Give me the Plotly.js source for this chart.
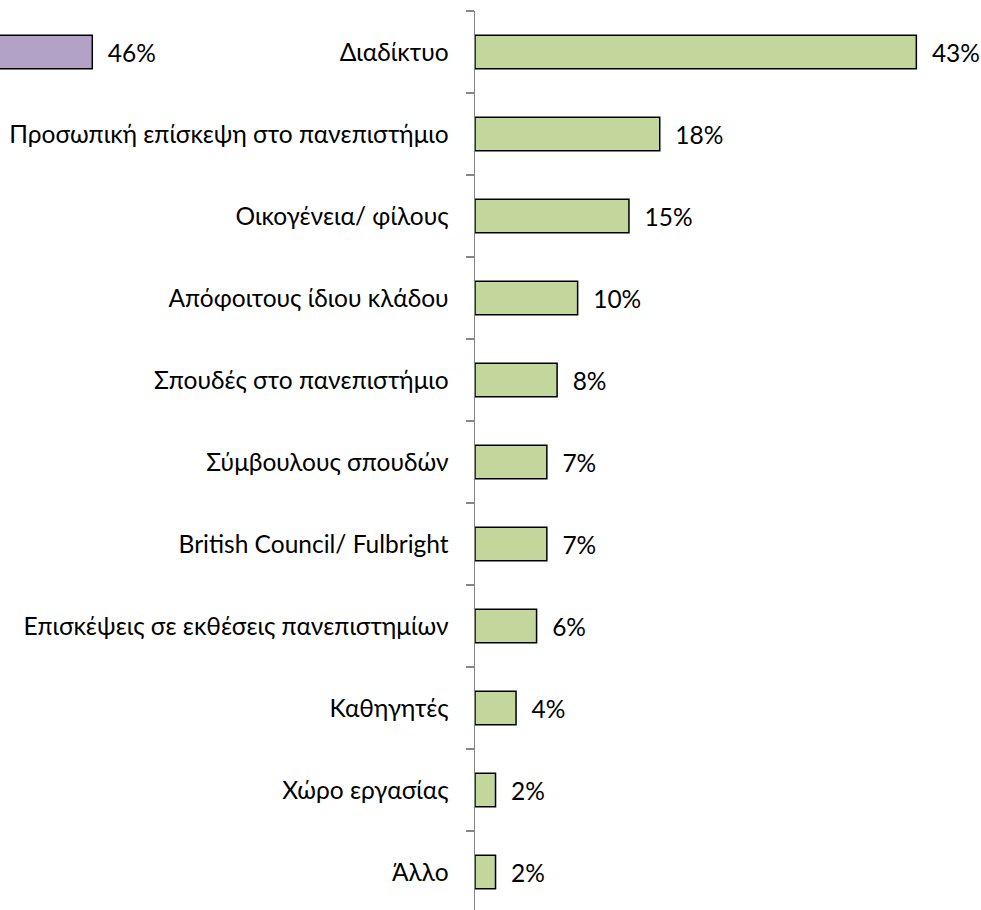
<!DOCTYPE html>
<html>
<head>
<meta charset="utf-8">
<script src="https://cdn.plot.ly/plotly-3.0.1.min.js"></script>
<style>html,body{margin:0;padding:0;background:#fff;}#chart{width:981px;height:910px;}</style>
</head>
<body>
<div id="chart"></div>
<script>
const categories = [
  "Διαδίκτυο",
  "Προσωπική επίσκεψη στο πανεπιστήμιο",
  "Οικογένεια/ φίλους",
  "Απόφοιτους ίδιου κλάδου",
  "Σπουδές στο πανεπιστήμιο",
  "Σύμβουλους σπουδών",
  "British Council/ Fulbright",
  "Επισκέψεις σε εκθέσεις πανεπιστημίων",
  "Καθηγητές",
  "Χώρο εργασίας",
  "Άλλο"
];
const values = [43, 18, 15, 10, 8, 7, 7, 6, 4, 2, 2];
const leftCategories = ["Διαδίκτυο"];
const leftValues = [46];

const pad = "\u00A0\u00A0";
const fontFam = "Lato, 'Open Sans', sans-serif";
const fsize = 24.5;

const traces = [
  {
    type: "bar", orientation: "h",
    y: categories, x: values,
    xaxis: "x", yaxis: "y",
    text: values.map(v => pad + v + "%"),
    textposition: "outside", cliponaxis: false,
    textfont: {family: fontFam, size: fsize, color: "#000"},
    marker: {color: "#C3D69B", line: {color: "#000", width: 1.5}},
    width: 0.41, hoverinfo: "none"
  },
  {
    type: "bar", orientation: "h",
    y: leftCategories, x: leftValues,
    xaxis: "x2", yaxis: "y",
    text: leftValues.map(v => pad + v + "%"),
    textposition: "outside", cliponaxis: false,
    textfont: {family: fontFam, size: fsize, color: "#000"},
    marker: {color: "#B3A2C7", line: {color: "#000", width: 1.5}},
    width: 0.41, hoverinfo: "none"
  }
];

const layout = {
  width: 981, height: 910,
  margin: {l: 0, r: 0, t: 11, b: 0},
  paper_bgcolor: "#fff", plot_bgcolor: "rgba(0,0,0,0)",
  showlegend: false,
  font: {family: fontFam, size: fsize, color: "#000"},
  xaxis: {domain: [475/981, 1], range: [0, 49.3], visible: false, fixedrange: true},
  xaxis2: {domain: [0, 0.2], range: [37.03, 56.1], visible: false, anchor: "y", fixedrange: true},
  yaxis: {
    type: "category", categoryorder: "array", categoryarray: categories,
    range: [10.463, -0.5], anchor: "x",
    showline: true, linecolor: "#868686", linewidth: 1.5,
    ticks: "outside", tickson: "boundaries", ticklen: 8, tickcolor: "#868686", tickwidth: 1.5,
    ticklabelstandoff: 20,
    showgrid: false, zeroline: false,
    tickfont: {family: fontFam, size: fsize, color: "#000"},
    fixedrange: true
  }
};

Plotly.newPlot("chart", traces, layout, {displayModeBar: false, staticPlot: true});
</script>
</body>
</html>
